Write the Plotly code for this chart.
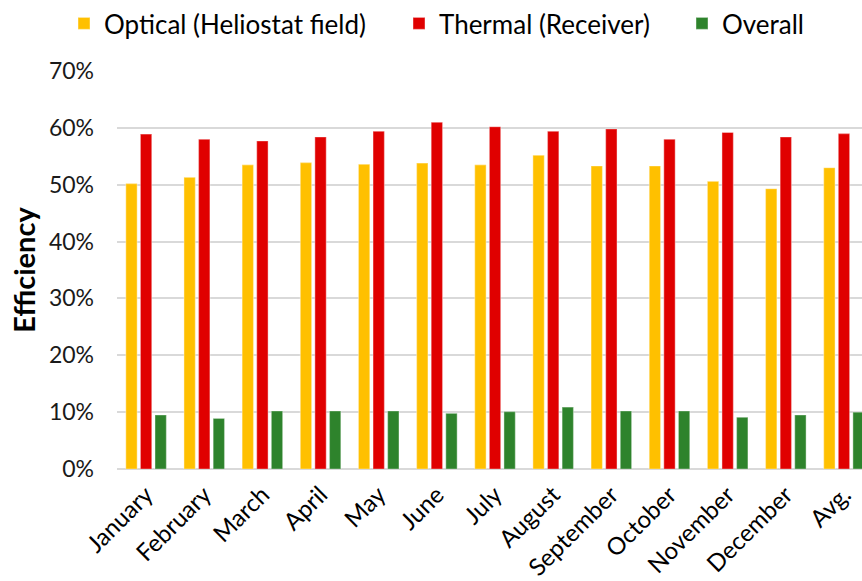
import plotly.graph_objects as go

months = ["January", "February", "March", "April", "May", "June", "July",
          "August", "September", "October", "November", "December", "Avg."]

optical = [50.2, 51.3, 53.5, 53.9, 53.6, 53.8, 53.5, 55.2, 53.3, 53.3, 50.6, 49.3, 53.0]
thermal = [58.9, 58.0, 57.7, 58.4, 59.4, 61.0, 60.2, 59.4, 59.8, 58.0, 59.2, 58.4, 59.0]
overall = [9.5, 8.9, 10.2, 10.2, 10.2, 9.8, 10.1, 10.9, 10.2, 10.2, 9.1, 9.5, 10.0]

series_names = ["Optical (Heliostat field)", "Thermal (Receiver)", "Overall"]
series_colors = ["#FFC000", "#E00000", "#2E832C"]
series_values = [optical, thermal, overall]

FONT = "Lato, Carlito, Calibri, sans-serif"
W, H = 862, 581

# each series gets its own legend box so the entries can sit apart
legend_ids = ["legend", "legend2", "legend3"]
legend_left_px = [64, 399, 682]

fig = go.Figure()
for name, vals, color, lid in zip(series_names, series_values, series_colors, legend_ids):
    fig.add_trace(go.Bar(
        x=months,
        y=[v / 100 for v in vals],
        name=name,
        legend=lid,
        marker=dict(color=color, line=dict(width=1.2, color="rgba(255,255,255,0.35)")),
    ))

legend_style = dict(
    orientation="h",
    xref="container", yref="container",
    xanchor="left", yanchor="top",
    y=1.0,
    font=dict(size=26, color="#000000"),
    itemwidth=30,
    bgcolor="rgba(0,0,0,0)",
    borderwidth=0,
)

fig.update_layout(
    width=W,
    height=H,
    margin=dict(l=117, r=0, t=71, b=112),
    paper_bgcolor="white",
    plot_bgcolor="white",
    barmode="group",
    bargap=0.247,
    bargroupgap=0.22,
    font=dict(family=FONT, color="#1a1a1a"),
    showlegend=True,
    legend=dict(legend_style, x=legend_left_px[0] / W),
    legend2=dict(legend_style, x=legend_left_px[1] / W),
    legend3=dict(legend_style, x=legend_left_px[2] / W),
)

fig.update_xaxes(
    type="category",
    range=[-0.5, 12.31],
    tickangle=-45,
    tickfont=dict(size=24, color="#000000"),
    ticklabelstandoff=6,
    showgrid=False,
    showline=False,
    ticks="",
    automargin=False,
)

fig.update_yaxes(
    range=[0, 0.7],
    dtick=0.1,
    tickformat=".0%",
    tickfont=dict(size=23, color="#1a1a1a"),
    showgrid=True,
    gridcolor="#d9d9d9",
    gridwidth=1.5,
    zeroline=True,
    zerolinecolor="#d9d9d9",
    zerolinewidth=1.5,
    ticklabelstandoff=22,
    automargin=False,
    title=dict(text="<b>Efficiency</b>", font=dict(size=29, color="#000000"), standoff=4),
)

fig.write_html("out.html")
